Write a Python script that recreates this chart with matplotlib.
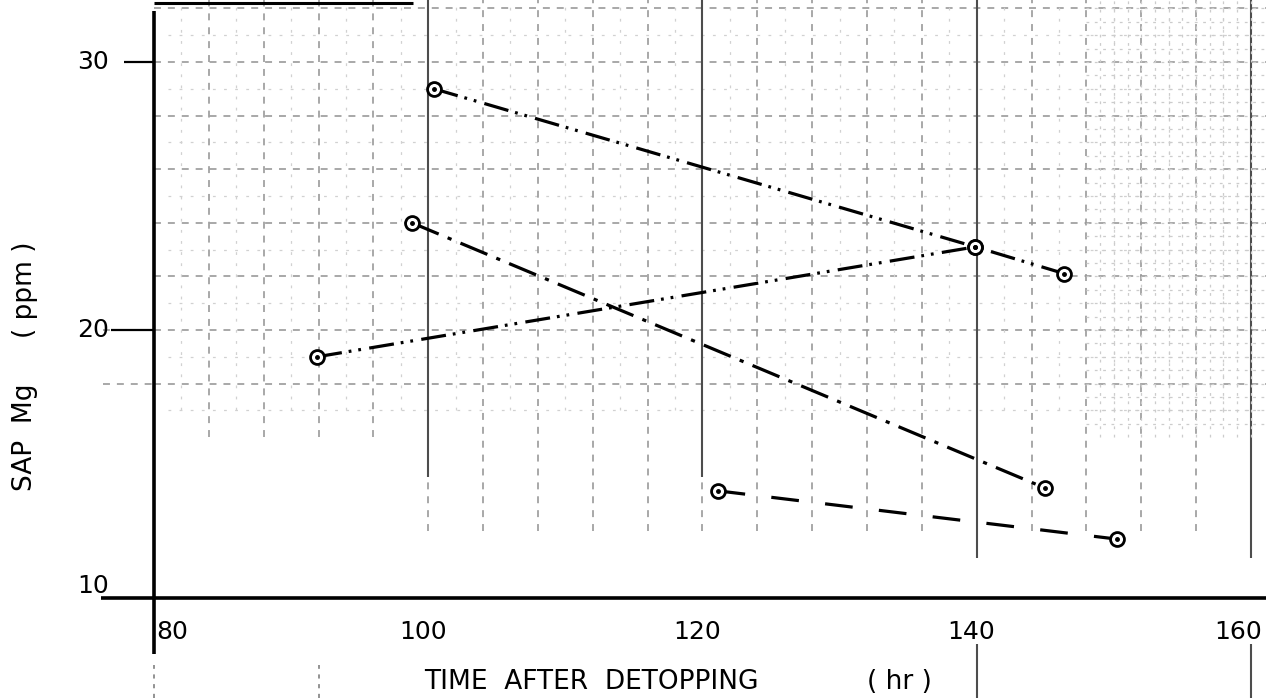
import numpy as np
import matplotlib
matplotlib.use("Agg")
import matplotlib.pyplot as plt

plt.rcParams['lines.scale_dashes'] = False
plt.rcParams['font.family'] = ['DejaVu Sans']

# values (hr after detopping, sap Mg ppm)
a_hr = [100.4, 139.9, 146.4]
a_mg = [29.0, 23.1, 22.1]
b_hr = [91.9, 139.9]
b_mg = [19.0, 23.1]
c_hr = [98.8, 145.0]
c_mg = [24.0, 14.1]
d_hr = [121.1, 150.2]
d_mg = [14.0, 12.2]

x_ticks = [80, 100, 120, 140, 160]
y_ticks = [10, 20, 30]

fig = plt.figure(figsize=(12.66, 6.98), dpi=100)
ax = fig.add_axes([0, 0, 1, 1])
ax.set_xlim(68.77, 161.1)
ax.set_ylim(6.27, 32.31)
for s in ax.spines.values():
    s.set_visible(False)
ax.set_xticks([])
ax.set_yticks([])

# graph paper showing through the scan
grid_kw = dict(color='0.6', lw=1.2, ls=(0, (5, 5)), zorder=1)
minor_kw = dict(color='0.82', lw=0.9, ls=(0, (2, 6)), zorder=1)
for y in np.arange(18, 33, 2):
    ax.hlines(y, 80, 161.1, **grid_kw)
ax.hlines([18, 20], 76.3, 80, **grid_kw)
for y in np.arange(17, 33, 2):
    ax.hlines(y, 81, 161.1, **minor_kw)
for x in np.arange(84, 161, 4):
    bottom = 16 if x < 98 else 12.5
    ax.vlines(x, bottom, 32.31, **grid_kw)
for x in np.arange(82, 161, 4):
    ax.vlines(x, 17, 32.31, **minor_kw)
for x in [100, 120, 140, 160]:
    ax.vlines(x, 14.5 if x < 130 else 11.5, 32.31, color='0.3', lw=1.5, zorder=1)
ax.vlines([140, 160], 6.27, 8.3, color='0.3', lw=1.5, zorder=1)
ax.vlines([80, 92], 6.27, 7.5, color='0.5', lw=1.2, ls=(0, (3, 4)), zorder=1)
# denser texture on the right side
for y in np.arange(16.5, 32.3, 0.5):
    ax.hlines(y, 148, 161.1, color='0.8', lw=0.9, ls=(0, (2, 4)), zorder=1)
for x in np.arange(149, 161, 1):
    ax.vlines(x, 16, 32.31, color='0.8', lw=0.9, ls=(0, (2, 4)), zorder=1)

# axes lines
ax.vlines(80, 7.9, 31.9, color='black', lw=2.6, zorder=3)
ax.hlines(10, 76.1, 161.1, color='black', lw=2.6, zorder=3)
ax.hlines(32.2, 80, 98.9, color='black', lw=2.2, zorder=3)
ax.hlines(30, 77.8, 80, color='black', lw=1.6, zorder=3)
ax.hlines(20, 76.9, 80, color='black', lw=1.6, zorder=3)

# tick labels
for y in y_ticks:
    dy = 0.45 if y == 10 else 0
    ax.text(76.7, y + dy, str(y), ha='right', va='center', fontsize=18, zorder=4)
for x in x_ticks:
    if x == 80:
        ax.text(80.15, 8.75, str(x), ha='left', va='center', fontsize=18, zorder=4)
    elif x == 160:
        ax.text(160.8, 8.75, str(x), ha='right', va='center', fontsize=18, zorder=4)
    else:
        ax.text(x - 0.4, 8.75, str(x), ha='center', va='center', fontsize=18, zorder=4)

ax.text(111.9, 6.87, 'TIME  AFTER  DETOPPING', ha='center', va='center', fontsize=19)
ax.text(134.4, 6.87, '( hr )', ha='center', va='center', fontsize=19)
ax.text(70.6, 16.0, 'SAP  Mg', rotation=90, ha='center', va='center', fontsize=19)
ax.text(70.6, 21.5, '( ppm )', rotation=90, ha='center', va='center', fontsize=19)

# data lines
line_kw = dict(color='black', lw=2.3, zorder=5)
ax.plot(a_hr, a_mg, ls=(0, (18, 5, 2, 5, 2, 6)), **line_kw)
ax.plot(b_hr, b_mg, ls=(0, (18, 5, 2, 5, 2, 6)), **line_kw)
ax.plot(c_hr, c_mg, ls=(0, (21, 7, 3, 7)), **line_kw)
ax.plot(d_hr, d_mg, ls=(0, (20, 19)), **line_kw)

mk_kw = dict(ls='none', marker='o', ms=10, mfc='white', mec='black', mew=2.0, zorder=6)
dot_kw = dict(ls='none', marker='o', ms=2.5, color='black', zorder=7)
for xs, ys in [(a_hr, a_mg), (b_hr, b_mg), (c_hr, c_mg), (d_hr, d_mg)]:
    ax.plot([xs[0], xs[-1]], [ys[0], ys[-1]], **mk_kw)
    ax.plot([xs[0], xs[-1]], [ys[0], ys[-1]], **dot_kw)
ax.plot(a_hr[1], a_mg[1], **mk_kw)
ax.plot(a_hr[1], a_mg[1], **dot_kw)

fig.savefig('out.png', dpi=100)
